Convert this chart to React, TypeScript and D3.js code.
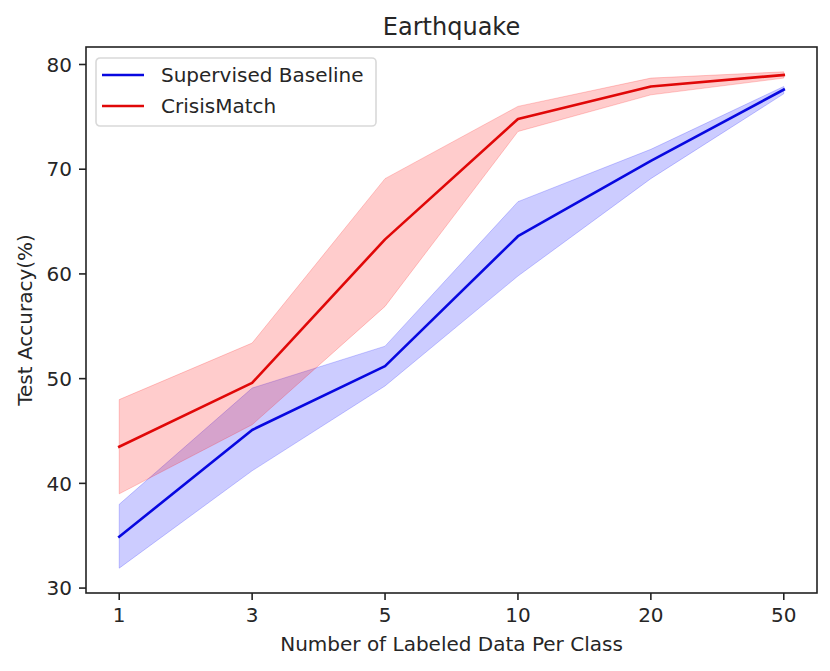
import * as d3 from "d3";

const categories = ["1", "3", "5", "10", "20", "50"];

const baselineMean = [34.9, 45.1, 51.2, 63.6, 70.8, 77.6];
const baselineUpper = [38.0, 49.1, 53.1, 66.9, 71.9, 77.9];
const baselineLower = [31.9, 41.2, 49.3, 59.8, 69.1, 77.2];

const crisisMean = [43.5, 49.6, 63.3, 74.8, 77.9, 79.0];
const crisisUpper = [48.0, 53.4, 69.1, 76.0, 78.7, 79.3];
const crisisLower = [39.0, 45.6, 56.9, 73.6, 77.1, 78.7];

const yTicks = [30, 40, 50, 60, 70, 80];

const width = 830;
const height = 671;
const margin = { top: 47, right: 13, bottom: 78, left: 86 };
const font = "'DejaVu Sans', sans-serif";
const textColor = "#262626";

export default function App() {
  const x0 = margin.left;
  const x1 = width - margin.right;
  const y0 = height - margin.bottom;
  const y1 = margin.top;

  // matplotlib-style 5% margins on both axes
  const n = categories.length - 1;
  const x = d3
    .scaleLinear()
    .domain([-0.05 * n, n * 1.05])
    .range([x0, x1]);

  const lo = d3.min([...baselineLower, ...crisisLower]) ?? 0;
  const hi = d3.max([...baselineUpper, ...crisisUpper]) ?? 1;
  const pad = (hi - lo) * 0.05;
  const y = d3
    .scaleLinear()
    .domain([lo - pad, hi + pad])
    .range([y0, y1]);

  const line = d3
    .line<number>()
    .x((_, i) => x(i))
    .y((d) => y(d));

  const band = (lower: number[], upper: number[]) =>
    d3
      .area<number>()
      .x((_, i) => x(i))
      .y0((_, i) => y(lower[i]))
      .y1((d) => y(d))(upper) ?? "";

  const series = [
    { name: "Supervised Baseline", color: "#0000ff", stroke: "#0808e0", mean: baselineMean, lower: baselineLower, upper: baselineUpper },
    { name: "CrisisMatch", color: "#ff0000", stroke: "#e00808", mean: crisisMean, lower: crisisLower, upper: crisisUpper },
  ];

  return (
    <svg
      width={width}
      height={height}
      style={{ position: "absolute", left: 0, top: 0, background: "#fff" }}
      fontFamily={font}
    >
      {/* bands */}
      {series.map((s) => (
        <path key={s.name + "-band"} d={band(s.lower, s.upper)} fill={s.color} fillOpacity={0.2} stroke={s.color} strokeOpacity={0.2} strokeWidth={1} />
      ))}
      {/* lines */}
      {series.map((s) => (
        <path key={s.name} d={line(s.mean) ?? ""} fill="none" stroke={s.stroke} strokeWidth={2.6} strokeLinejoin="round" strokeLinecap="square" />
      ))}

      {/* frame */}
      <rect x={x0} y={y1} width={x1 - x0} height={y0 - y1} fill="none" stroke="#222" strokeWidth={1.6} />

      {/* x ticks */}
      {categories.map((c, i) => (
        <g key={c} transform={`translate(${x(i)},${y0})`}>
          <line y1={0} y2={7} stroke="#222" strokeWidth={1.6} />
          <text y={29} textAnchor="middle" fontSize={20} fill={textColor}>
            {c}
          </text>
        </g>
      ))}

      {/* y ticks */}
      {yTicks.map((t) => (
        <g key={t} transform={`translate(${x0},${y(t)})`}>
          <line x1={0} x2={-7} stroke="#222" strokeWidth={1.6} />
          <text x={-14} dy="0.36em" textAnchor="end" fontSize={20} fill={textColor}>
            {t}
          </text>
        </g>
      ))}

      {/* title and labels */}
      <text x={(x0 + x1) / 2} y={35} textAnchor="middle" fontSize={24} fill={textColor}>
        Earthquake
      </text>
      <text x={(x0 + x1) / 2} y={651} textAnchor="middle" fontSize={20} fill={textColor}>
        Number of Labeled Data Per Class
      </text>
      <text
        transform={`translate(32,${(y0 + y1) / 2}) rotate(-90)`}
        textAnchor="middle"
        fontSize={20}
        fill={textColor}
      >
        Test Accuracy(%)
      </text>

      {/* legend */}
      <g transform="translate(96,58)">
        <rect width={280} height={68} rx={4} fill="#fff" fillOpacity={0.8} stroke="#d9d9d9" strokeWidth={1.6} />
        {series.map((s, i) => (
          <g key={s.name} transform={`translate(0,${17 + i * 31})`}>
            <line x1={6} x2={48} stroke={s.stroke} strokeWidth={2.6} />
            <text x={65} dy="0.36em" fontSize={20} fill={textColor}>
              {s.name}
            </text>
          </g>
        ))}
      </g>
    </svg>
  );
}
